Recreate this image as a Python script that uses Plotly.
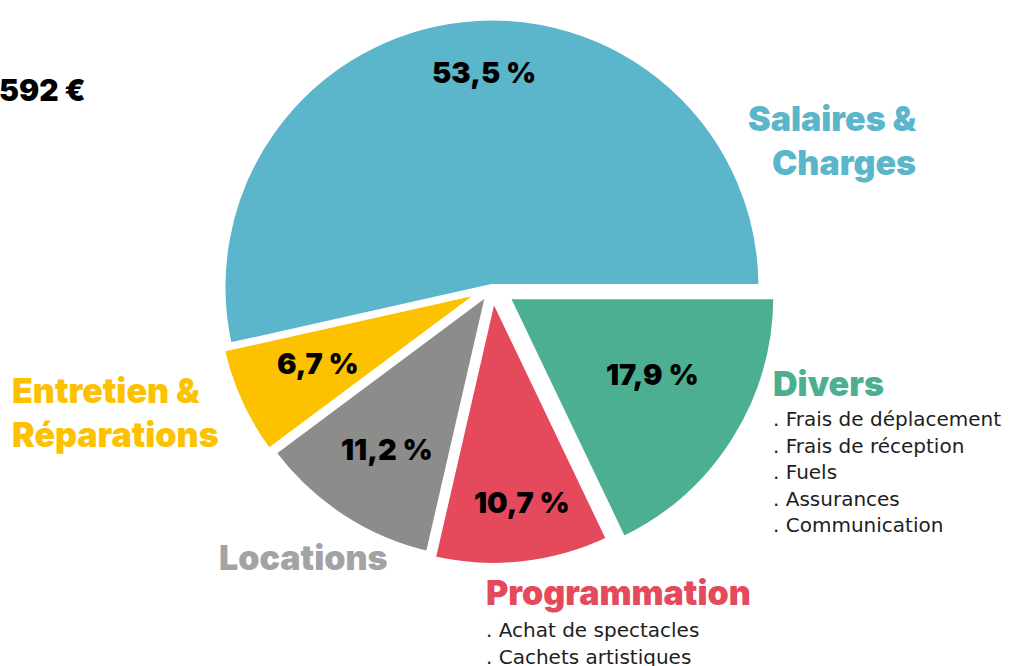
import plotly.graph_objects as go

# ---- data ----
categories = ["Salaires & Charges", "Entretien & Réparations", "Locations", "Programmation", "Divers"]
values = [53.5, 6.7, 11.2, 10.7, 17.9]
colors = ["#5BB5CB", "#FCC200", "#8C8C8B", "#E5495C", "#4CAF91"]
label_colors = ["#5BB5CB", "#FCC200", "#A3A3A3", "#E5495C", "#4CAF91"]
pulls = [0.0, 0.03, 0.02, 0.035, 0.065]
divers_items = ["Frais de déplacement", "Frais de réception", "Fuels", "Assurances", "Communication"]
prog_items = ["Achat de spectacles", "Cachets artistiques"]
total_text = "592 €"

W, H = 1035, 666
HEAVY = "Inter"
LIGHT = "DejaVu Sans"


def px(x):
    return x / W


def py(y):
    return 1 - y / H


# first slice starts at 3 o'clock and the slices run counterclockwise
rotation = 90 - values[0] / sum(values) * 360

fig = go.Figure(go.Pie(
    labels=categories,
    values=values,
    sort=False,
    direction="counterclockwise",
    rotation=rotation,
    pull=pulls,
    marker=dict(colors=colors, line=dict(color="white", width=6)),
    textinfo="none",
    hoverinfo="skip",
    domain=dict(x=[(492 - 300) / W, (492 + 300) / W], y=[1 - 574 / H, 1]),
))

ann = []
# percentage labels
pct_pos = [(484, 72), (318, 363), (387, 449), (522, 502), (652, 374)]
for v, (x, y) in zip(values, pct_pos):
    ann.append(dict(x=px(x), y=py(y), text=f"{v:.1f} %".replace(".", ","),
                    font=dict(family=HEAVY, size=29, color="black", weight=900),
                    xanchor="center", yanchor="middle"))

CAT = 34
ann.append(dict(x=px(918), y=py(140), text="Salaires &<br>Charges", align="right",
                font=dict(family=HEAVY, size=CAT, color=label_colors[0], weight=900),
                xanchor="right", yanchor="middle"))
ann.append(dict(x=px(10), y=py(412), text="Entretien &<br>Réparations", align="left",
                font=dict(family=HEAVY, size=CAT, color=label_colors[1], weight=900),
                xanchor="left", yanchor="middle"))
ann.append(dict(x=px(217), y=py(557), text="Locations", align="left",
                font=dict(family=HEAVY, size=CAT, color=label_colors[2], weight=900),
                xanchor="left", yanchor="middle"))
ann.append(dict(x=px(484), y=py(592), text="Programmation", align="left",
                font=dict(family=HEAVY, size=CAT, color=label_colors[3], weight=900),
                xanchor="left", yanchor="middle"))
ann.append(dict(x=px(771), y=py(383), text="Divers", align="left",
                font=dict(family=HEAVY, size=CAT, color=label_colors[4], weight=900),
                xanchor="left", yanchor="middle"))

# sub items
for i, t in enumerate(divers_items):
    ann.append(dict(x=px(771), y=py(419 + i * 26.5), text=". " + t, align="left",
                    font=dict(family=LIGHT, size=20, color="#1E1E1E", weight=400),
                    xanchor="left", yanchor="middle"))
for i, t in enumerate(prog_items):
    ann.append(dict(x=px(484), y=py(630 + i * 26.5), text=". " + t, align="left",
                    font=dict(family=LIGHT, size=20, color="#1E1E1E", weight=400),
                    xanchor="left", yanchor="middle"))

# partially visible total
ann.append(dict(x=px(88), y=py(90), text=total_text,
                font=dict(family=HEAVY, size=30, color="black", weight=900),
                xanchor="right", yanchor="middle"))

for a in ann:
    a.update(xref="paper", yref="paper", showarrow=False)

fig.update_layout(
    width=W, height=H,
    margin=dict(l=0, r=0, t=0, b=0),
    paper_bgcolor="white", plot_bgcolor="white",
    showlegend=False,
    annotations=ann,
)

fig.write_html("out.html", config={"displayModeBar": False},
               post_script="document.body.style.margin='0';")
